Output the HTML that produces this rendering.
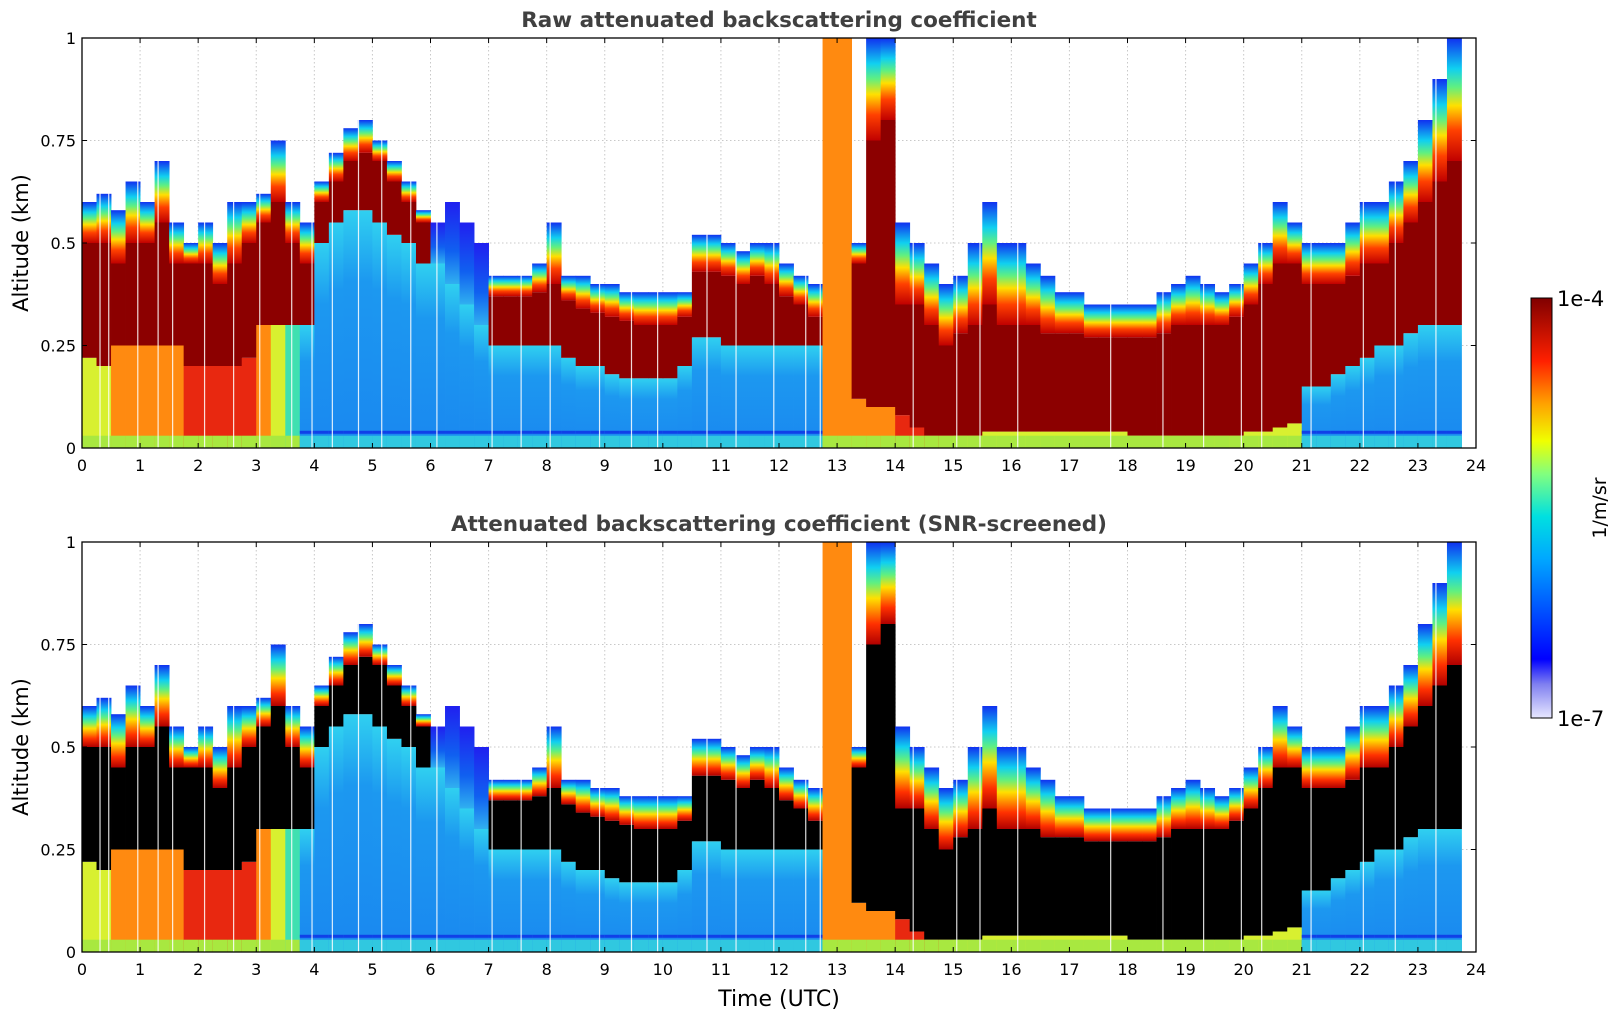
<!DOCTYPE html>
<html><head><meta charset="utf-8">
<style>
html,body{margin:0;padding:0;background:#fff;}
svg{display:block;font-family:"DejaVu Sans","Liberation Sans",sans-serif;}
</style></head>
<body>
<svg id="chart" width="1621" height="1020" viewBox="0 0 1621 1020" xmlns="http://www.w3.org/2000/svg">
<defs>
<linearGradient id="trans" x1="0" y1="1" x2="0" y2="0">
<stop offset="0" stop-color="#c00000"/><stop offset="0.25" stop-color="#ff4000"/><stop offset="0.45" stop-color="#ffe000"/><stop offset="0.6" stop-color="#60f080"/><stop offset="0.75" stop-color="#10d0f0"/><stop offset="1" stop-color="#1030f0"/>
</linearGradient>
<linearGradient id="transBlack" x1="0" y1="1" x2="0" y2="0">
<stop offset="0" stop-color="#b00000"/><stop offset="0.2" stop-color="#ff3000"/><stop offset="0.45" stop-color="#ffe000"/><stop offset="0.6" stop-color="#60f080"/><stop offset="0.75" stop-color="#10d0f0"/><stop offset="1" stop-color="#1030f0"/>
</linearGradient>
<linearGradient id="transBlue" x1="0" y1="1" x2="0" y2="0">
<stop offset="0" stop-color="#30b0f0"/><stop offset="0.4" stop-color="#1060f0"/><stop offset="1" stop-color="#2020f0"/>
</linearGradient>
<linearGradient id="lowBlue" x1="0" y1="1" x2="0" y2="0">
<stop offset="0" stop-color="#1a88f0"/><stop offset="0.7" stop-color="#1c98f0"/><stop offset="1" stop-color="#30d0f0"/>
</linearGradient>
<linearGradient id="cbar" x1="0" y1="1" x2="0" y2="0">
<stop offset="0" stop-color="#e8e8ff"/><stop offset="0.08" stop-color="#8080f0"/><stop offset="0.14" stop-color="#0000ff"/><stop offset="0.3" stop-color="#0070ff"/><stop offset="0.38" stop-color="#00a8ff"/><stop offset="0.48" stop-color="#00e0e0"/><stop offset="0.58" stop-color="#80ff80"/><stop offset="0.66" stop-color="#f0ff00"/><stop offset="0.75" stop-color="#ffa000"/><stop offset="0.85" stop-color="#ff2000"/><stop offset="1" stop-color="#800000"/>
</linearGradient>
</defs>
<g id="layer"></g>
</svg>
<script>
// ---- data (per 15-min column, 0..23.75 h) ----
const colTimes = Array.from({length:96},(_, i)=>i*0.25);
const topKm = [0.6,0.62,0.58,0.65, 0.6,0.7,0.55,0.5, 0.55,0.5,0.6,0.6, 0.62,0.75,0.6,0.55,
 0.65,0.72,0.78,0.8, 0.75,0.7,0.65,0.58, 0.55,0.6,0.55,0.5, 0.42,0.42,0.42,0.45,
 0.55,0.42,0.42,0.4, 0.4,0.38,0.38,0.38, 0.38,0.38,0.52,0.52, 0.5,0.48,0.5,0.5,
 0.45,0.42,0.4,1.0, 1.0,0.5,1.0,1.0, 0.55,0.5,0.45,0.4, 0.42,0.5,0.6,0.5,
 0.5,0.45,0.42,0.38, 0.38,0.35,0.35,0.35, 0.35,0.35,0.38,0.4, 0.42,0.4,0.38,0.4,
 0.45,0.5,0.6,0.55, 0.5,0.5,0.5,0.55, 0.6,0.6,0.65,0.7, 0.8,0.9,1.0,0];
const coreBase = [0.22,0.2,0.25,0.25, 0.25,0.25,0.25,0.2, 0.2,0.2,0.2,0.22, 0.3,0.3,0.3,0.3,
 0.5,0.55,0.58,0.58, 0.55,0.52,0.5,0.45, 0.45,0.4,0.35,0.3, 0.25,0.25,0.25,0.25,
 0.25,0.22,0.2,0.2, 0.18,0.17,0.17,0.17, 0.17,0.2,0.27,0.27, 0.25,0.25,0.25,0.25,
 0.25,0.25,0.25,1.0, 1.0,0.12,0.1,0.1, 0.08,0.05,0.03,0.03, 0.03,0.03,0.04,0.04,
 0.04,0.04,0.04,0.04, 0.04,0.04,0.04,0.04, 0.03,0.03,0.03,0.03, 0.03,0.03,0.03,0.03,
 0.04,0.04,0.05,0.06, 0.15,0.15,0.18,0.2, 0.22,0.25,0.25,0.28, 0.3,0.3,0.3,0];
const coreTop = [0.5,0.5,0.45,0.5, 0.5,0.55,0.45,0.45, 0.45,0.4,0.45,0.5, 0.55,0.6,0.5,0.45,
 0.6,0.65,0.7,0.72, 0.7,0.65,0.6,0.55, 0.45,0.4,0.35,0.3, 0.37,0.37,0.37,0.38,
 0.4,0.36,0.34,0.33, 0.32,0.31,0.3,0.3, 0.3,0.32,0.43,0.43, 0.42,0.4,0.42,0.4,
 0.37,0.35,0.32,1.0, 1.0,0.45,0.75,0.8, 0.35,0.35,0.3,0.25, 0.28,0.3,0.35,0.3,
 0.3,0.3,0.28,0.28, 0.28,0.27,0.27,0.27, 0.27,0.27,0.28,0.3, 0.3,0.3,0.3,0.32,
 0.35,0.4,0.45,0.45, 0.4,0.4,0.4,0.42, 0.45,0.45,0.5,0.55, 0.6,0.65,0.7,0];
// 0 blue aerosol, 1 orange, 2 red, 3 yellow, 4 cyan-green
const lowType = [3,3,1,1, 1,1,1,2, 2,2,2,2, 1,3,4,0,
 0,0,0,0, 0,0,0,0, 0,0,0,0, 0,0,0,0, 0,0,0,0, 0,0,0,0, 0,0,0,0, 0,0,0,0,
 0,0,0,1, 1,1,1,1, 2,2,2,2, 3,3,3,3, 3,3,3,3, 3,3,3,3, 3,3,3,3, 3,3,3,3,
 3,3,3,3, 0,0,0,0, 0,0,0,0, 0,0,0,0];
const gapTimes = [0.3,0.45,0.95,1.3,1.55,2.1,2.6,3.05,3.6,3.95,4.3,4.75,5.15,5.65,6.1,7.05,7.55,8.05,8.9,9.45,9.9,10.75,11.25,11.9,12.45,12.7,14.3,15.05,15.45,16.1,17.7,18.6,19.3,19.95,20.3,21.15,22.05,22.6,23.3];
const xTicks = [0,1,2,3,4,5,6,7,8,9,10,11,12,13,14,15,16,17,18,19,20,21,22,23,24];
const yTicks = [0,0.25,0.5,0.75,1];
const yTickLabels = ["0","0.25","0.5","0.75","1"];
const panelTitles = ["Raw attenuated backscattering coefficient","Attenuated backscattering coefficient (SNR-screened)"];

const NS="http://www.w3.org/2000/svg";
const L=82,R=1476,H=410,panelTops=[38,542];
const layer=document.getElementById('layer');
function X(t){return L+t/24*(R-L);}
function mk(tag,attrs,parent){const e=document.createElementNS(NS,tag);for(const k in attrs)e.setAttribute(k,attrs[k]);(parent||layer).appendChild(e);return e;}
const lowColors=['url(#lowBlue)','#ff8a10','#e82810','#d8f030','#40e0b0'];

panelTops.forEach((py,p)=>{
  const Y=km=>py+(1-km)*H;
  const g=mk('g',{});
  
  
  xTicks.forEach(t=>{const l=mk('line',{x1:X(t),x2:X(t),y1:py,y2:py+H,stroke:'#c8c8c8','stroke-dasharray':'1.5,2.5'},g);
    });
  yTicks.forEach(v=>{const l=mk('line',{x1:L,x2:R,y1:Y(v),y2:Y(v),stroke:'#c8c8c8','stroke-dasharray':'1.5,2.5'},g);
    });
  const hm=mk('g',{},g);
  
  
  colTimes.forEach((t,i)=>{
    if(topKm[i]<=0)return;
    const x=X(t),w=X(t+0.25)-x+0.4;
    const top=topKm[i],cb=Math.min(coreBase[i],top),ct=Math.min(coreTop[i],top);
    const hasCore=ct>cb;
    const r1=mk('rect',{x:x,y:Y(cb),width:w,height:Y(0)-Y(cb),fill:lowColors[lowType[i]]},hm);
    
    if(hasCore){
      const r2=mk('rect',{x:x,y:Y(ct),width:w,height:Y(cb)-Y(ct),fill:p===0?'#8c0000':'#000'},hm);
      
    }
    const s=Math.max(ct,cb);
    if(top>s){
      const fill=hasCore?(p===0?'url(#trans)':'url(#transBlack)'):(lowType[i]===0?'url(#transBlue)':'url(#trans)');
      const r3=mk('rect',{x:x,y:Y(top),width:w,height:Y(s)-Y(top),fill:fill},hm);
      
    }
    const r4=mk('rect',{x:x,y:Y(0.03),width:w,height:Y(0)-Y(0.03),fill:lowType[i]===0?'#30c8e0':'#a8e840'},hm);
    
    if(lowType[i]===0 && top>0.1){
      const r5=mk('rect',{x:x,y:Y(0.042),width:w,height:3,fill:'#1040e8'},hm);
      
    }
  });
  gapTimes.forEach(t=>{const l=mk('rect',{x:X(t),y:py,width:1.2,height:H,fill:'#fff',opacity:0.85},hm);
    });
  const fr=mk('rect',{x:L,y:py,width:R-L,height:H,fill:'none',stroke:'#000','stroke-width':1.3},g);
  
  xTicks.forEach(t=>{
    mk('line',{x1:X(t),x2:X(t),y1:py+H,y2:py+H-5,stroke:'#000'},g);
    mk('line',{x1:X(t),x2:X(t),y1:py,y2:py+5,stroke:'#000'},g);
    const tx=mk('text',{x:X(t),y:py+H+23,'font-size':16,'text-anchor':'middle',fill:'#000'},g);
    tx.textContent=t;
    
  });
  yTicks.forEach((v,k)=>{
    mk('line',{x1:L,x2:L+5,y1:Y(v),y2:Y(v),stroke:'#000'},g);
    mk('line',{x1:R,x2:R-5,y1:Y(v),y2:Y(v),stroke:'#000'},g);
    const tx=mk('text',{x:L-6,y:Y(v)+6,'font-size':16,'text-anchor':'end',fill:'#000'},g);
    tx.textContent=yTickLabels[k];
    
  });
  const ti=mk('text',{x:(L+R)/2,y:py-11,'font-size':21.5,'font-weight':'bold','text-anchor':'middle',fill:'#404040'},g);
  ti.textContent=panelTitles[p];
  
  const yl=mk('text',{x:0,y:0,'font-size':21,'text-anchor':'middle',fill:'#000',transform:`translate(28,${py+H/2}) rotate(-90)`},g);
  yl.textContent='Altitude (km)';
  
});
const xl=mk('text',{x:(L+R)/2,y:1006,'font-size':22,'text-anchor':'middle',fill:'#000'});
xl.textContent='Time (UTC)';

const cb=mk('rect',{x:1531,y:298,width:21,height:420,fill:'url(#cbar)',stroke:'#000','stroke-width':1});

const c1=mk('text',{x:1557,y:306,'font-size':21,fill:'#000'});c1.textContent='1e-4';

const c2=mk('text',{x:1557,y:726,'font-size':21,fill:'#000'});c2.textContent='1e-7';

const c3=mk('text',{x:0,y:0,'font-size':19,'text-anchor':'middle',fill:'#000',transform:'translate(1606,508) rotate(-90)'});c3.textContent='1/m/sr';

</script>
</body></html>
